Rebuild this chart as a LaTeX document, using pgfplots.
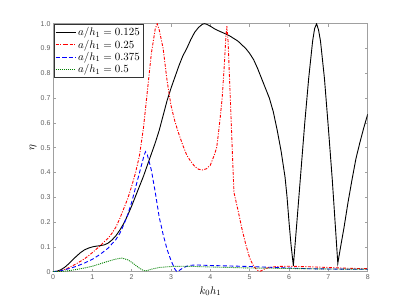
\documentclass[border=0pt]{standalone}
\usepackage{fontspec}
\setmainfont{Liberation Sans}
\usepackage{pgfplots}
\pgfplotsset{compat=1.18}
\definecolor{axgray}{RGB}{160,160,160}
\definecolor{labgray}{RGB}{95,95,95}
\definecolor{mgreen}{RGB}{0,128,0}
\begin{document}
\begin{tikzpicture}
\begin{axis}[
  scale only axis, width=314.7pt, height=248pt,
  xmin=0, xmax=8, ymin=0, ymax=1,
  xtick={0,1,2,3,4,5,6,7,8},
  ytick={0,0.1,0.2,0.3,0.4,0.5,0.6,0.7,0.8,0.9,1},
  yticklabels={0,0.1,0.2,0.3,0.4,0.5,0.6,0.7,0.8,0.9,1.0},
  tick align=inside, major tick length=3pt,
  axis line style={axgray, line width=0.9pt},
  tick style={axgray, line width=0.6pt},
  ticklabel style={font=\fontsize{7}{8}\selectfont, text=labgray},
  /pgf/number format/assume math mode=true,
  xticklabel style={yshift=1pt},
  yticklabel style={xshift=1pt},
  xlabel={$k_0h_1$}, ylabel={$\eta$},
  every axis x label/.style={at={(axis description cs:0.5,-0.078)}, anchor=center, font=\fontsize{11}{12}\selectfont},
  every axis y label/.style={at={(axis description cs:-0.0636,0.5)}, rotate=90, anchor=center, font=\fontsize{11}{12}\selectfont},
  legend style={at={(axis description cs:0.003,0.997)}, anchor=north west, draw=black!80, line width=0.5pt,
    font=\fontsize{11}{12}\selectfont, inner sep=1pt, row sep=-1.5pt, legend cell align=left},
  legend image code/.code={\draw[mark repeat=2,mark phase=2] plot coordinates {(0cm,0cm) (0.35cm,0cm) (0.7cm,0cm)};},
]
% a/h1 = 0.125
\addplot[black, line width=0.9pt] coordinates {
(0,0) (0.1,0.002) (0.2,0.008) (0.3,0.018) (0.4,0.032) (0.5,0.048) (0.6,0.063) (0.7,0.077) (0.8,0.088) (0.9,0.095)
(1.0,0.100) (1.1,0.103) (1.2,0.105) (1.3,0.108) (1.4,0.115) (1.5,0.128) (1.6,0.145) (1.7,0.168) (1.8,0.195) (1.9,0.228)
(2.0,0.265) (2.1,0.305) (2.2,0.345) (2.3,0.385) (2.4,0.43) (2.5,0.475) (2.6,0.52) (2.7,0.57) (2.8,0.63) (2.9,0.69)
(3.0,0.74) (3.1,0.785) (3.2,0.83) (3.3,0.87) (3.4,0.90) (3.5,0.935) (3.6,0.965) (3.7,0.985) (3.8,0.998) (3.85,1.0)
(3.9,0.998) (4.0,0.99) (4.1,0.98) (4.2,0.972) (4.3,0.965) (4.4,0.958) (4.5,0.95) (4.6,0.94) (4.7,0.93) (4.8,0.915)
(4.9,0.90) (5.0,0.88) (5.1,0.855) (5.2,0.82) (5.3,0.78) (5.4,0.74) (5.5,0.70) (5.6,0.645) (5.7,0.57) (5.8,0.485)
(5.9,0.38) (5.95,0.30) (6.0,0.20) (6.05,0.11) (6.11,0.024) (6.2,0.20) (6.3,0.40) (6.4,0.60) (6.5,0.78) (6.6,0.93)
(6.65,0.98) (6.7,1.0) (6.75,0.975) (6.8,0.93) (6.9,0.78) (7.0,0.58) (7.1,0.37) (7.2,0.13) (7.24,0.034) (7.3,0.09)
(7.4,0.18) (7.5,0.28) (7.6,0.37) (7.7,0.455) (7.8,0.52) (7.9,0.58) (8.0,0.635)
};
\addlegendentry{$a/h_1 = 0.125$}
% a/h1 = 0.25
\addplot[red, line width=0.9pt, dash pattern=on 3pt off 1.5pt on 1pt off 1.5pt] coordinates {
(0,0) (0.1,0.001) (0.2,0.004) (0.3,0.009) (0.4,0.016) (0.5,0.024) (0.6,0.033) (0.7,0.042) (0.8,0.052) (0.9,0.064)
(1.0,0.077) (1.1,0.091) (1.2,0.104) (1.3,0.12) (1.4,0.135) (1.5,0.155) (1.6,0.18) (1.7,0.215) (1.8,0.255) (1.9,0.295)
(2.0,0.345) (2.1,0.40) (2.2,0.47) (2.3,0.58) (2.4,0.73) (2.5,0.88) (2.6,0.98) (2.65,1.0) (2.7,0.975) (2.8,0.90)
(2.9,0.77) (3.0,0.67) (3.1,0.605) (3.2,0.555) (3.3,0.51) (3.4,0.47) (3.5,0.445) (3.6,0.425) (3.7,0.413) (3.8,0.41)
(3.9,0.415) (4.0,0.43) (4.1,0.47) (4.16,0.50) (4.2,0.55) (4.25,0.62) (4.3,0.70) (4.35,0.82) (4.4,0.96) (4.42,0.99)
(4.45,0.93) (4.5,0.73) (4.55,0.52) (4.6,0.32) (4.7,0.25) (4.8,0.175) (4.9,0.11) (5.0,0.055) (5.1,0.022) (5.2,0.006)
(5.27,0.002) (5.35,0.008) (5.4,0.013) (5.5,0.017) (5.7,0.021) (6.0,0.022) (6.5,0.02) (7.0,0.017) (7.5,0.014) (8.0,0.012)
};
\addlegendentry{$a/h_1 = 0.25$}
% a/h1 = 0.375
\addplot[blue, line width=0.9pt, dash pattern=on 4pt off 2.5pt] coordinates {
(0,0) (0.2,0.004) (0.4,0.012) (0.6,0.022) (0.8,0.035) (1.0,0.05) (1.2,0.07) (1.4,0.095) (1.6,0.13) (1.7,0.155)
(1.8,0.19) (1.9,0.23) (2.0,0.28) (2.1,0.34) (2.2,0.40) (2.3,0.46) (2.35,0.484) (2.4,0.47) (2.5,0.41) (2.6,0.32)
(2.7,0.22) (2.8,0.15) (2.9,0.09) (3.0,0.045) (3.1,0.01) (3.15,0.0) (3.2,0.004) (3.3,0.015) (3.4,0.022) (3.5,0.026)
(3.7,0.027) (4.0,0.025) (4.5,0.023) (5.0,0.021) (5.5,0.018) (6.0,0.015) (6.5,0.012) (7.0,0.011) (7.5,0.01) (8.0,0.01)
};
\addlegendentry{$a/h_1 = 0.375$}
% a/h1 = 0.5
\addplot[mgreen, line width=0.9pt, dash pattern=on 1pt off 1pt] coordinates {
(0,0) (0.2,0.001) (0.4,0.004) (0.6,0.009) (0.8,0.015) (1.0,0.022) (1.2,0.032) (1.4,0.042) (1.6,0.051) (1.75,0.055)
(1.9,0.048) (2.0,0.038) (2.1,0.026) (2.2,0.014) (2.3,0.005) (2.35,0.003) (2.4,0.005) (2.5,0.01) (2.7,0.017) (3.0,0.021)
(3.3,0.022) (3.6,0.021) (4.0,0.019) (5.0,0.015) (6.0,0.013) (7.0,0.011) (8.0,0.01)
};
\addlegendentry{$a/h_1 = 0.5$}
\end{axis}
\path ([shift={(-53pt,-33.3pt)}]current axis.south west) rectangle ([shift={(39.3pt,23.7pt)}]current axis.north east);
\end{tikzpicture}
\end{document}
